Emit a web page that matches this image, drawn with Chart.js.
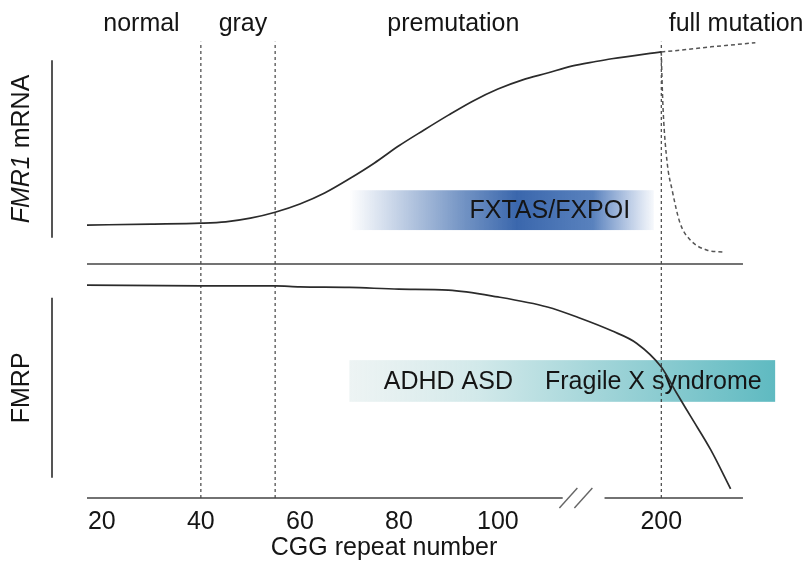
<!DOCTYPE html>
<html>
<head>
<meta charset="utf-8">
<script src="https://cdn.jsdelivr.net/npm/chart.js@4.4.0/dist/chart.umd.min.js"></script>
<style>
  body { margin: 0; background: #fff; }
  #wrap { width: 811px; height: 571px; }
</style>
</head>
<body>
<div id="wrap"><canvas id="fmrChart" width="811" height="571"></canvas></div>
<script>
// axis ticks (CGG repeat number)
var tickRepeats = [20, 40, 60, 80, 100, 200];
var tickLabels = ['20', '40', '60', '80', '100', '200'];
var axisTitle = 'CGG repeat number';
var axisTitleAt = 77;

// zone boundaries and zone names
var boundaries = [40, 55, 200];
var zoneNames = ['normal', 'gray', 'premutation', 'full mutation'];
var zoneAt = [28, 48.5, 91, 201.5];

// FMR1 mRNA level (relative units)
var mrnaRepeats = [17, 30, 40, 45, 50, 55, 60, 65, 70, 75, 80, 85, 90, 95, 100, 105, 110, 140, 170, 190, 200];
var mrnaLevel = [59.6, 59.8, 60.0, 60.3, 61.1, 62.4, 64.2, 66.6, 69.7, 73.1, 76.9, 80.3, 83.6, 86.7, 89.3, 91.3, 92.8, 94.3, 95.3, 95.9, 97.4];

// full mutation: unmethylated (up) and methylated (down)
var fullUpRepeats = [200, 205, 210, 215, 219];
var fullUpLevel = [97.4, 97.9, 98.5, 99.0, 99.4];
var fullDownRepeats = [200, 200.15, 200.4, 201.2, 202.2, 203.8, 205.9, 209.3, 212.5];
var fullDownLevel = [97.4, 91.3, 84.1, 73.1, 67.2, 60.0, 56.3, 54.1, 53.7];

// FMRP level (relative units)
var fmrpRepeats = [17, 40, 55, 60, 70, 80, 90, 100, 110, 150, 190, 195, 200, 203, 206, 210, 214];
var fmrpLevel = [46.5, 46.3, 46.3, 46.1, 46.0, 45.6, 45.4, 43.9, 41.7, 39.3, 36.5, 33.8, 28.6, 23.1, 17.7, 10.5, 2.0];

// panels
var panelNames = ['FMR1 mRNA', 'FMRP'];
var panelHigh = [95.6, 43.7];
var panelLow = [56.8, 4.4];
var separatorLevel = 51.1;

// clinical bands
var bandTexts = [['FXTAS/FXPOI'], ['ADHD ASD', 'Fragile X syndrome']];
var bandTextAt = [[113], [90, 198.4]];
var bandFrom = [70, 70];
var bandTo = [198.5, 223];
var bandLow = [58.5, 21.0];
var bandHigh = [67.2, 30.1];

// axis span and break
var axisStart = 17, axisEnd = 216.5;
var breakFrom = 129, breakTo = 181, breakAt = 146;

// broken axis: 110..190 squeezed
function toAxis(r) {
  if (r <= 110) return r;
  if (r < 190) return 110 + (r - 110) * 13 / 80;
  return r - 67;
}

function pts(rs, vs) {
  return rs.map(function (r, i) { return { x: toAxis(r), y: vs[i] }; });
}

var FONT = '"Liberation Sans", Arial, sans-serif';
var INK = '#2b2b2b';
var TEXT = '#151515';

var decor = {
  id: 'decor',
  beforeDatasetsDraw: function (chart) {
    var ctx = chart.ctx, x = chart.scales.x, y = chart.scales.y;
    ctx.save();
    for (var b = 0; b < bandTexts.length; b++) {
      var x0 = x.getPixelForValue(toAxis(bandFrom[b]));
      var x1 = x.getPixelForValue(toAxis(bandTo[b]));
      var y0 = y.getPixelForValue(bandHigh[b]);
      var y1 = y.getPixelForValue(bandLow[b]);
      var g = ctx.createLinearGradient(x0, 0, x1, 0);
      if (b === 0) {
        g.addColorStop(0, 'rgba(58,104,172,0)');
        g.addColorStop(0.38, 'rgba(58,104,172,0.72)');
        g.addColorStop(0.55, 'rgba(52,98,170,0.97)');
        g.addColorStop(0.8, 'rgba(66,112,180,0.88)');
        g.addColorStop(1, 'rgba(90,130,195,0.05)');
      } else {
        g.addColorStop(0, 'rgba(225,236,236,0.6)');
        g.addColorStop(0.3, 'rgba(210,233,234,1)');
        g.addColorStop(0.6, 'rgba(160,212,216,1)');
        g.addColorStop(1, 'rgba(95,186,193,1)');
      }
      ctx.fillStyle = g;
      ctx.fillRect(x0, y0, x1 - x0, y1 - y0);
      ctx.fillStyle = TEXT;
      ctx.font = '25px ' + FONT;
      ctx.textAlign = 'center';
      ctx.textBaseline = 'middle';
      for (var t = 0; t < bandTexts[b].length; t++) {
        ctx.fillText(bandTexts[b][t], x.getPixelForValue(toAxis(bandTextAt[b][t])), (y0 + y1) / 2 + 1);
      }
    }
    ctx.restore();
  },
  afterDatasetsDraw: function (chart) {
    var ctx = chart.ctx, x = chart.scales.x, y = chart.scales.y;
    var area = chart.chartArea;
    ctx.save();
    // x axis line with break
    var ay = y.getPixelForValue(0);
    ctx.strokeStyle = '#444';
    ctx.lineWidth = 1.6;
    ctx.beginPath();
    ctx.moveTo(x.getPixelForValue(toAxis(axisStart)), ay);
    ctx.lineTo(x.getPixelForValue(toAxis(breakFrom)), ay);
    ctx.moveTo(x.getPixelForValue(toAxis(breakTo)), ay);
    ctx.lineTo(x.getPixelForValue(toAxis(axisEnd)), ay);
    ctx.stroke();
    var bx = x.getPixelForValue(toAxis(breakAt));
    ctx.lineWidth = 1.4;
    ctx.strokeStyle = '#666';
    [-8, 7].forEach(function (d) {
      ctx.beginPath();
      ctx.moveTo(bx + d - 9, ay + 10);
      ctx.lineTo(bx + d + 9, ay - 10);
      ctx.stroke();
    });

    ctx.fillStyle = TEXT;
    ctx.font = '25px ' + FONT;
    ctx.textBaseline = 'middle';
    // axis title
    ctx.textAlign = 'center';
    ctx.fillText(axisTitle, x.getPixelForValue(toAxis(axisTitleAt)), ay + 50);

    // zone names
    for (var i = 0; i < zoneNames.length; i++) {
      ctx.textAlign = i === zoneNames.length - 1 ? 'left' : 'center';
      ctx.fillText(zoneNames[i], x.getPixelForValue(toAxis(zoneAt[i])), area.top - 16);
    }

    // panel bars and labels
    var barX = area.left - 35;
    ctx.strokeStyle = '#555';
    ctx.lineWidth = 2;
    for (var p = 0; p < panelNames.length; p++) {
      var py0 = y.getPixelForValue(panelHigh[p]);
      var py1 = y.getPixelForValue(panelLow[p]);
      ctx.beginPath();
      ctx.moveTo(barX, py0);
      ctx.lineTo(barX, py1);
      ctx.stroke();
      ctx.save();
      ctx.translate(22, (py0 + py1) / 2);
      ctx.rotate(-Math.PI / 2);
      ctx.textAlign = 'left';
      ctx.textBaseline = 'middle';
      var name = panelNames[p];
      if (name.indexOf('FMR1 ') === 0) {
        var head = 'FMR1', tail = name.slice(4);
        ctx.font = 'italic 25px ' + FONT;
        var w1 = ctx.measureText(head).width;
        ctx.font = '25px ' + FONT;
        var w2 = ctx.measureText(tail).width;
        var sx = -(w1 + w2) / 2;
        ctx.font = 'italic 25px ' + FONT;
        ctx.fillText(head, sx, 0);
        ctx.font = '25px ' + FONT;
        ctx.fillText(tail, sx + w1, 0);
      } else {
        ctx.font = '25px ' + FONT;
        var w = ctx.measureText(name).width;
        ctx.fillText(name, -w / 2, 0);
      }
      ctx.restore();
    }
    ctx.restore();
  }
};

var curve = { borderColor: INK, borderWidth: 1.7, pointRadius: 0, cubicInterpolationMode: 'monotone', fill: false };
var dashed = { borderColor: '#555', borderWidth: 1.5, borderDash: [4, 3], pointRadius: 0, cubicInterpolationMode: 'monotone', fill: false };
var datasets = [
  Object.assign({ label: 'FMR1 mRNA', data: pts(mrnaRepeats, mrnaLevel) }, curve),
  Object.assign({ label: 'full mutation unmethylated', data: pts(fullUpRepeats, fullUpLevel) }, dashed),
  Object.assign({ label: 'full mutation methylated', data: pts(fullDownRepeats, fullDownLevel) }, dashed),
  Object.assign({ label: 'FMRP', data: pts(fmrpRepeats, fmrpLevel) }, curve),
  { label: 'separator', data: pts([axisStart, axisEnd], [separatorLevel, separatorLevel]), borderColor: '#444', borderWidth: 1.6, pointRadius: 0, tension: 0 }
];
boundaries.forEach(function (r) {
  datasets.push({ label: 'boundary ' + r, data: pts([r, r], [0, 99.6]), borderColor: '#333', borderWidth: 1.1, borderDash: [3, 3], pointRadius: 0, tension: 0 });
});

var ctx = document.getElementById('fmrChart').getContext('2d');
var fmrChart = new Chart(ctx, {
  type: 'line',
  data: { datasets: datasets },
  options: {
    responsive: false,
    animation: false,
    events: [],
    layout: { padding: { left: 87, top: 40, right: 21, bottom: 13.5 } },
    plugins: { legend: { display: false }, tooltip: { enabled: false } },
    scales: {
      x: {
        type: 'linear',
        min: 17,
        max: 159,
        grid: { display: false, drawTicks: false },
        border: { display: false },
        afterBuildTicks: function (axis) {
          axis.ticks = tickRepeats.map(function (r) { return { value: toAxis(r) }; });
        },
        afterFit: function (axis) { axis.height = 59.5; },
        ticks: {
          autoSkip: false,
          maxRotation: 0,
          padding: 12,
          color: TEXT,
          font: { family: FONT, size: 25, lineHeight: 1.0 },
          callback: function (value, index) { return tickLabels[index]; }
        }
      },
      y: { display: false, min: 0, max: 100 }
    }
  },
  plugins: [decor]
});
</script>
</body>
</html>
